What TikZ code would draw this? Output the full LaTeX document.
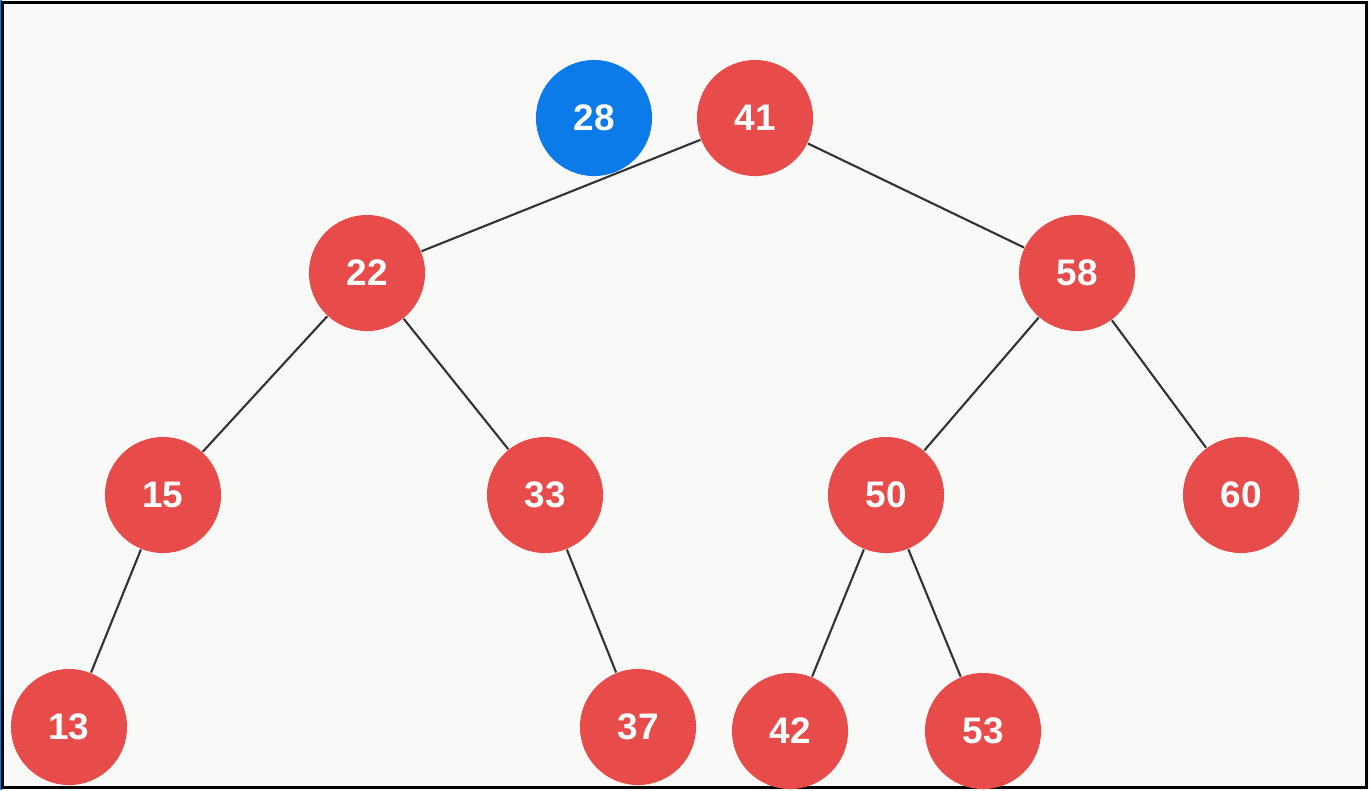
\documentclass[tikz,border=0pt]{standalone}
\usepackage{fontspec}
\setmainfont{Liberation Sans}
\definecolor{bgc}{HTML}{F9F9F7}
\definecolor{nred}{HTML}{E84C4A}
\definecolor{nblue}{HTML}{0A7BE8}
\definecolor{edgec}{HTML}{333333}
\begin{document}
\begin{tikzpicture}[x=0.01cm,y=-0.01cm,
  tnode/.style={circle,fill=nred,minimum size=1.16cm,inner sep=0pt,text=white,font=\bfseries\fontsize{10.5}{12}\selectfont},
  bnode/.style={tnode,fill=nblue},
  edge/.style={draw=edgec,line width=0.6pt}]
\fill[bgc] (0,0) rectangle (1370,790);
\useasboundingbox (0,0) rectangle (1370,790);
\draw[nblue,line width=0.6pt] (0.5,0) -- (0.5,790);
\draw[black,line width=0.7pt] (2.5,2.5) rectangle (1366.5,787.5);
\node[bnode] (n28) at (594,118) {28};
\node[tnode] (n41) at (755,118) {41};
\node[tnode] (n22) at (367,273) {22};
\node[tnode] (n58) at (1077,273) {58};
\node[tnode] (n15) at (163,495) {15};
\node[tnode] (n33) at (545,495) {33};
\node[tnode] (n50) at (886,495) {50};
\node[tnode] (n60) at (1241,495) {60};
\node[tnode] (n13) at (69,727) {13};
\node[tnode] (n37) at (638,727) {37};
\node[tnode] (n42) at (790,731) {42};
\node[tnode] (n53) at (983,731) {53};
\draw[edge] (n41) -- (n22);
\draw[edge] (n41) -- (n58);
\draw[edge] (n22) -- (n15);
\draw[edge] (n22) -- (n33);
\draw[edge] (n58) -- (n50);
\draw[edge] (n58) -- (n60);
\draw[edge] (n15) -- (n13);
\draw[edge] (n33) -- (n37);
\draw[edge] (n50) -- (n42);
\draw[edge] (n50) -- (n53);
\end{tikzpicture}
\end{document}
